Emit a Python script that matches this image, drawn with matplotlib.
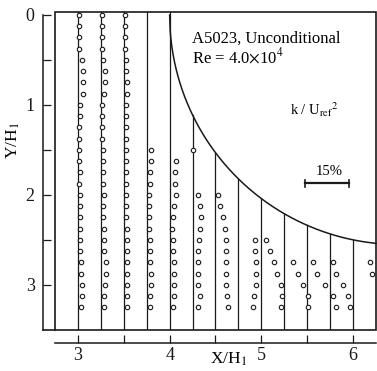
import matplotlib
matplotlib.use('Agg')
import matplotlib.pyplot as plt
from matplotlib.patches import Rectangle
from matplotlib.lines import Line2D
import numpy as np

plt.rcParams['font.family'] = ['Liberation Serif', 'DejaVu Serif']
plt.rcParams['mathtext.fontset'] = 'stix'

# ---------------- data ----------------
stations = [3.0, 3.25, 3.5, 3.75, 4.0, 4.25, 4.5, 4.75, 5.0, 5.25, 5.5, 5.75, 6.0]

y_a = [0.0, 0.125, 0.25, 0.375, 0.5, 0.625, 0.75, 0.875, 1.0, 1.125, 1.25, 1.375,
       1.5, 1.625, 1.75, 1.875, 2.0, 2.125, 2.25, 2.375, 2.5, 2.625, 2.75, 2.875,
       3.0, 3.125, 3.25]
k_300 = [0.35, 0.35, 0.35, 0.5, 1.45, 1.8, 1.7, 1.7, 0.8, 0.6, 0.25, 0.35, 0.5, 0.5,
         0.6, 0.5, 0.6, 0.6, 0.6, 0.7, 0.7, 0.7, 0.9, 1.0, 1.45, 1.25, 0.9]
k_325 = [0.25, 0.25, 0.25, 0.45, 0.8, 1.35, 1.45, 1.2, 0.5, 0.5, 0.55, 0.55, 0.9, 0.9,
         0.9, 0.9, 1.1, 0.9, 0.9, 1.0, 1.1, 1.1, 1.6, 1.6, 1.25, 1.1, 1.0]
k_350 = [0.35, 0.35, 0.35, 0.35, 0.7, 0.9, 1.1, 1.1, 0.7, 0.85, 0.9, 0.9, 0.9, 0.9,
         0.9, 0.9, 0.9, 0.9, 0.9, 1.0, 1.0, 1.1, 1.1, 1.1, 1.1, 1.1, 1.1]

y_375 = [1.5, 1.625, 1.75, 1.875, 2.0, 2.125, 2.25, 2.375, 2.5, 2.625, 2.75, 2.875,
         3.0, 3.125, 3.25]
k_375 = [1.5, 1.4, 1.1, 1.1, 0.9, 0.9, 0.9, 0.8, 1.15, 1.25, 1.25, 1.5, 1.5, 1.25, 1.15]

y_400 = [1.625, 1.75, 1.875, 2.0, 2.125, 2.25, 2.375, 2.5, 2.625, 2.75, 2.875,
         3.0, 3.125, 3.25]
k_400 = [2.0, 1.7, 1.9, 2.0, 1.5, 1.1, 0.7, 1.1, 1.1, 1.5, 1.5, 1.4, 1.4, 1.1]

y_425 = [1.5, 2.0, 2.125, 2.25, 2.375, 2.5, 2.625, 2.75, 2.875, 3.0, 3.125, 3.25]
k_425 = [0.0, 2.0, 2.7, 3.0, 2.6, 2.3, 2.0, 2.0, 2.0, 2.0, 2.6, 1.8]

y_450 = [2.0, 2.125, 2.25, 2.375, 2.5, 2.625, 2.75, 2.875, 3.0, 3.125, 3.25]
k_450 = [0.7, 1.5, 2.6, 3.4, 3.5, 3.5, 3.5, 3.5, 3.5, 3.75, 4.3]

y_475 = [2.5, 2.625, 2.75, 2.875, 3.0, 3.125, 3.25]
k_475 = [5.7, 5.7, 5.9, 6.0, 6.0, 5.35, 4.9]

y_500 = [2.5, 2.625, 2.75, 2.875, 3.0, 3.125, 3.25]
k_500 = [1.5, 2.8, 4.3, 5.4, 6.8, 7.1, 6.8]

y_525 = [2.75, 2.875, 3.0, 3.125, 3.25]
k_525 = [3.1, 4.8, 6.5, 8.2, 8.0]

y_550 = [2.75, 2.875, 3.0, 3.125, 3.25]
k_550 = [2.0, 3.5, 6.0, 8.9, 9.8]

y_575 = [2.75, 2.875, 3.0, 3.125, 3.25]
k_575 = [1.1, 2.0, 4.3, 6.0, 6.6]

y_600 = [2.75, 2.875]
k_600 = [5.8, 6.6]

profiles = [
    (3.0, y_a, k_300), (3.25, y_a, k_325), (3.5, y_a, k_350),
    (3.75, y_375, k_375), (4.0, y_400, k_400), (4.25, y_425, k_425),
    (4.5, y_450, k_450), (4.75, y_475, k_475), (5.0, y_500, k_500),
    (5.25, y_525, k_525), (5.5, y_550, k_550), (5.75, y_575, k_575),
    (6.0, y_600, k_600),
]

# wall geometry (ellipse quarter) and scale
wall_xc, wall_yc, wall_a, wall_b = 6.5, 0.0, 2.5, 2.55
scale_per_pct = 0.032   # X units per 1 % of k/Uref^2
ref_pct = 15

xticks = [3, 3.5, 4, 4.5, 5, 5.5, 6]
xticklabels = ['3', '', '4', '', '5', '', '6']
yticks = [0, 0.5, 1, 1.5, 2, 2.5, 3]
yticklabels = ['0', '', '1', '', '2', '', '3']

XMIN, XMAX = 2.75, 6.25
YTOP, YBOT = -0.033, 3.5

# ---------------- figure ----------------
fig = plt.figure(figsize=(3.77, 3.71), dpi=100)
ax = fig.add_axes([55/377, 1 - 330/371, 321/377, 318/371])
ax.set_xlim(XMIN, XMAX)
ax.set_ylim(YBOT, YTOP)

lc = '#1a1a1a'

def wall_y(x):
    return wall_yc + wall_b * np.sqrt(np.clip(1 - ((x - wall_xc) / wall_a) ** 2, 0, 1))

# wall curve
xc = np.linspace(wall_xc - wall_a, XMAX, 400)
ax.plot(xc, wall_y(xc), color=lc, lw=1.1, clip_on=False)

# station lines
for s in stations:
    top = YTOP if s <= wall_xc - wall_a else wall_y(s)
    ax.plot([s, s], [top, YBOT], color=lc, lw=0.9)

# profile circles
for s, ys, ks in profiles:
    xs = [s + k * scale_per_pct for k in ks]
    ax.plot(xs, ys, linestyle='none', marker='o', markersize=3.2,
            markerfacecolor='white', markeredgecolor=lc, markeredgewidth=0.8)

# reference bar
bx0 = 5.475
by = 1.87
bx1 = bx0 + ref_pct * scale_per_pct
ax.plot([bx0, bx1], [by, by], color=lc, lw=1.6)
ax.plot([bx0, bx0], [by - 0.04, by + 0.04], color=lc, lw=1.2)
ax.plot([bx1, bx1], [by - 0.04, by + 0.04], color=lc, lw=1.2)
ax.text((bx0 + bx1) / 2 + 0.02, by - 0.09, '15%', fontsize=10.5, ha='center', va='baseline')

# annotations
ax.text(4.244, 0.311, 'A5023, Unconditional', fontsize=12, ha='left', va='baseline')
ax.text(4.244, 0.53, r'Re = 4.0$\times$10$^{4}$', fontsize=12, ha='left', va='baseline')
ax.text(5.31, 1.11, r'k / U$_{\mathrm{ref}}$$^{2}$', fontsize=10.5, ha='left', va='baseline')

# frame
ax.add_patch(Rectangle((0, 0), 1, 1, transform=ax.transAxes, fill=False,
                       edgecolor=lc, lw=1.2, clip_on=False))
ax.add_line(Line2D([-12/321, 0], [0, 0], transform=ax.transAxes, color=lc,
                   lw=1.2, clip_on=False))

# spines
for sp in ['top', 'right']:
    ax.spines[sp].set_visible(False)
ax.spines['left'].set_position(('outward', 8.6))
ax.spines['left'].set_bounds(0, YBOT)
ax.spines['bottom'].set_position(('outward', 9.4))
for sp in ['left', 'bottom']:
    ax.spines[sp].set_color(lc)
    ax.spines[sp].set_linewidth(1.1)

ax.set_xticks(xticks)
ax.set_xticklabels(xticklabels)
ax.set_yticks(yticks)
ax.set_yticklabels(yticklabels)
ax.tick_params(axis='both', direction='in', length=5.5, width=0.9, colors=lc)
ax.tick_params(axis='x', labelsize=13, pad=2.5)
ax.tick_params(axis='y', labelsize=13, pad=6)

fig.text(229/377, 1 - 359/371, r'X/H$_{1}$', fontsize=12.5, ha='center', va='center')
fig.text(13/377, 1 - 140/371, r'Y/H$_{1}$', fontsize=12.5, ha='center', va='center',
         rotation=90)

fig.savefig('out.png', dpi=100)
